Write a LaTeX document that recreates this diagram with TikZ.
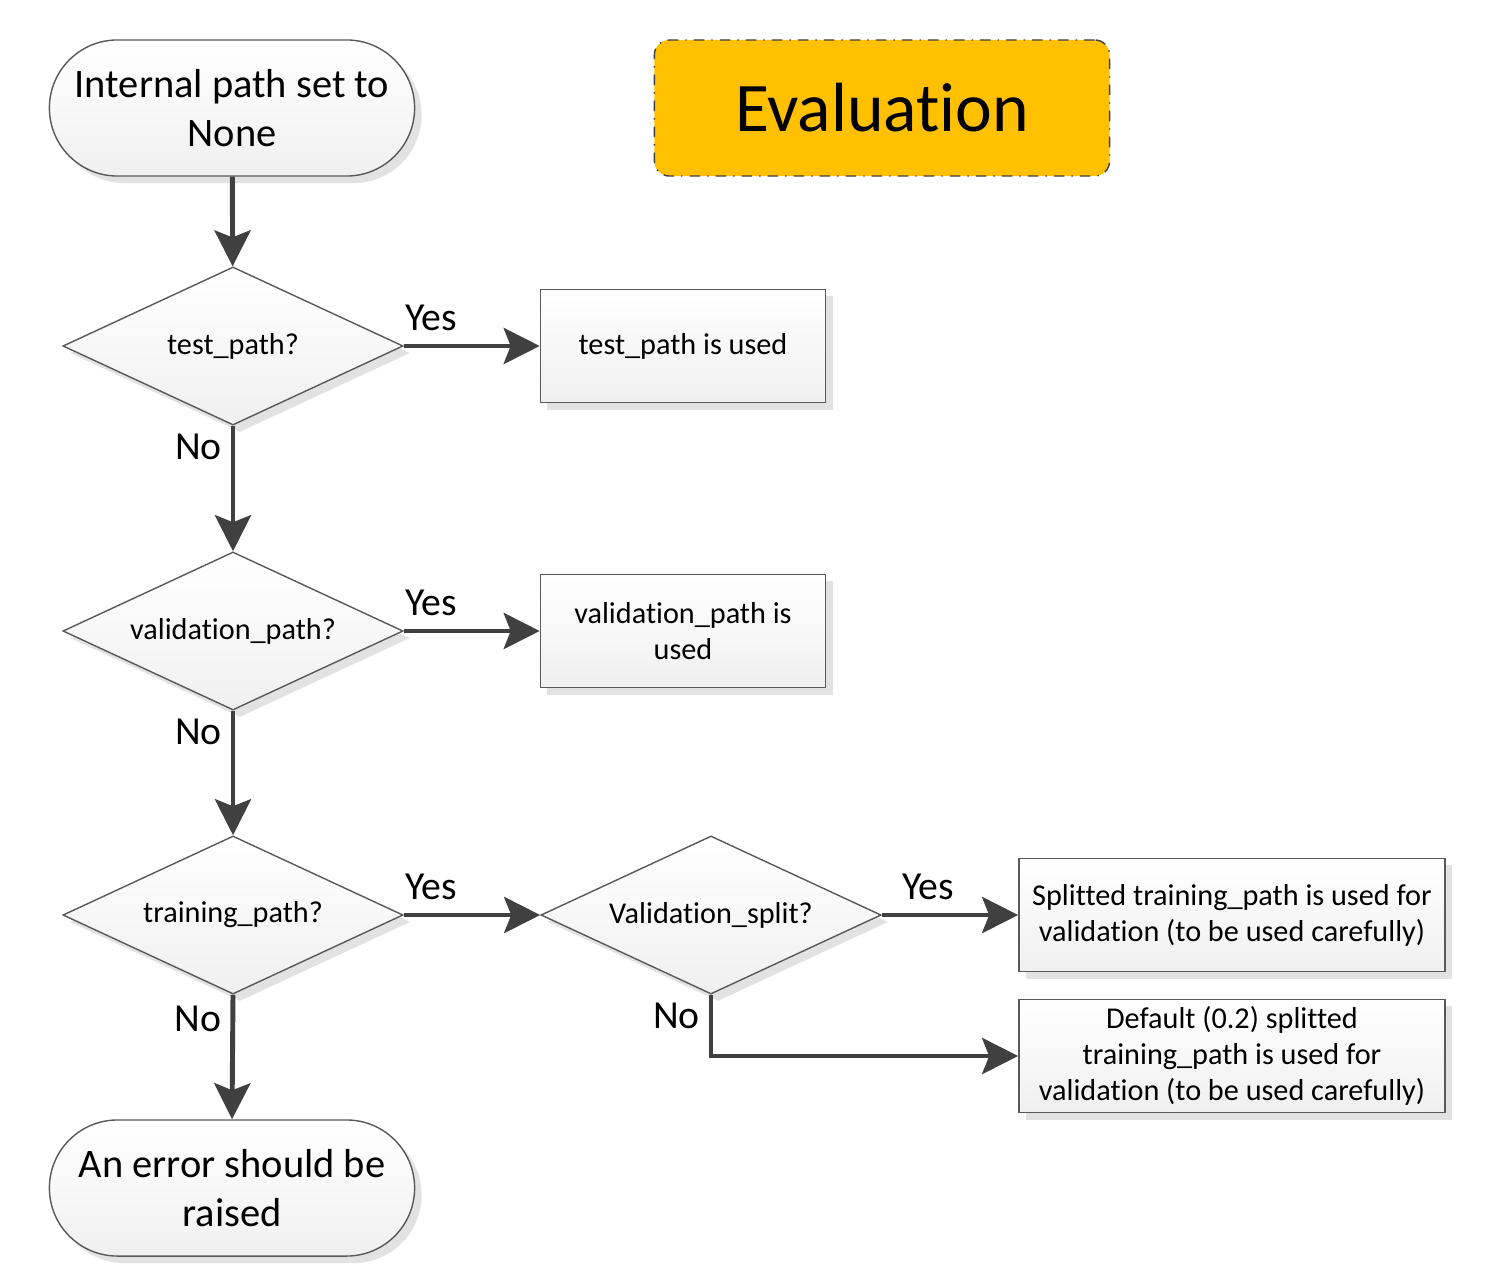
\documentclass[tikz,border=0pt]{standalone}
\usepackage{fontspec}
\setmainfont[Ligatures={NoCommon}]{Carlito}
\usetikzlibrary{shapes.geometric, arrows.meta, shadows}
\definecolor{linegray}{HTML}{404040}
\definecolor{evalyellow}{HTML}{FFC000}
\tikzset{
  terminal/.style={
    rectangle,
    rounded corners=0.68cm,
    draw=gray!70!black,
    top color=white, bottom color=gray!12,
    minimum width=3.65cm, minimum height=1.36cm,
    align=center,
    drop shadow={shadow xshift=0.07cm, shadow yshift=-0.07cm, fill=gray!45, opacity=0.5},
    font=\fontsize{11.5}{14}\selectfont
  },
  decision/.style={
    diamond,
    shape aspect=2.15,
    draw=gray!70!black,
    top color=white, bottom color=gray!12,
    minimum width=3.4cm, minimum height=1.58cm, inner sep=0pt,
    drop shadow={shadow xshift=0.07cm, shadow yshift=-0.07cm, fill=gray!45, opacity=0.5},
    font=\fontsize{8.6}{10.5}\selectfont
  },
  block/.style={
    rectangle,
    draw=gray!70!black,
    top color=white, bottom color=gray!12,
    minimum height=1.13cm, inner ysep=2pt, align=center,
    drop shadow={shadow xshift=0.07cm, shadow yshift=-0.07cm, fill=gray!45, opacity=0.5},
    font=\fontsize{8.6}{10.2}\selectfont
  },
  answer/.style={font=\fontsize{11.3}{13}\selectfont, inner sep=3.5pt}
}
\tikzstyle{arrow} = [-{Stealth[length=3.6mm, width=3.6mm, inset=0.7mm]}, line width=1.4pt, draw=linegray]

\begin{document}
\begin{tikzpicture}[x=0.01cm, y=-0.01cm]
    \useasboundingbox (0,0) rectangle (1504,1285);
    % title
    \node[rectangle, rounded corners=0.15cm, draw=gray!50!black, dash dot, fill=evalyellow,
          minimum width=4.55cm, minimum height=1.36cm, font=\fontsize{19.8}{24}\selectfont] (title) at (882,108) {Evaluation};
    % main column
    \node[terminal] (start) at (232,108) {Internal path set to\\None};
    \node[decision] (test) at (233,346) {test\_path?};
    \node[decision] (valid) at (233,631) {validation\_path?};
    \node[decision] (train) at (233,915) {training\_path?};
    \node[terminal] (error) at (232,1188) {An error should be\\raised};
    % outcomes
    \node[block, minimum width=2.85cm] (testused) at (683,346) {test\_path is used};
    \node[block, minimum width=2.85cm] (validused) at (683,631) {validation\_path is\\used};
    \node[decision] (split) at (711,915) {Validation\_split?};
    \node[block, minimum width=4.26cm] (splitused) at (1232,915) {Splitted training\_path is used for\\validation (to be used carefully)};
    \node[block, minimum width=4.26cm] (defaultused) at (1232,1056) {Default (0.2) splitted\\training\_path is used for\\validation (to be used carefully)};
    % connectors
    \draw[arrow] (start) -- (test);
    \draw[arrow] (test.east) -- node[answer, above, pos=0.2] {Yes} (testused);
    \draw[arrow] (test.south) -- node[answer, left, pos=0.17, xshift=1pt] {No} (valid.north);
    \draw[arrow] (valid.east) -- node[answer, above, pos=0.2] {Yes} (validused);
    \draw[arrow] (valid.south) -- node[answer, left, pos=0.17, xshift=1pt] {No} (train.north);
    \draw[arrow] (train.east) -- node[answer, above, pos=0.2] {Yes} (split.west);
    \draw[arrow] (train.south) -- node[answer, left, pos=0.19, xshift=1pt] {No} (error.north);
    \draw[arrow] (split.east) -- node[answer, above, pos=0.34] {Yes} (splitused.west);
    \draw[arrow] (split.south) |- node[answer, left, pos=0.17, xshift=1pt] {No} (defaultused.west);
\end{tikzpicture}
\end{document}
